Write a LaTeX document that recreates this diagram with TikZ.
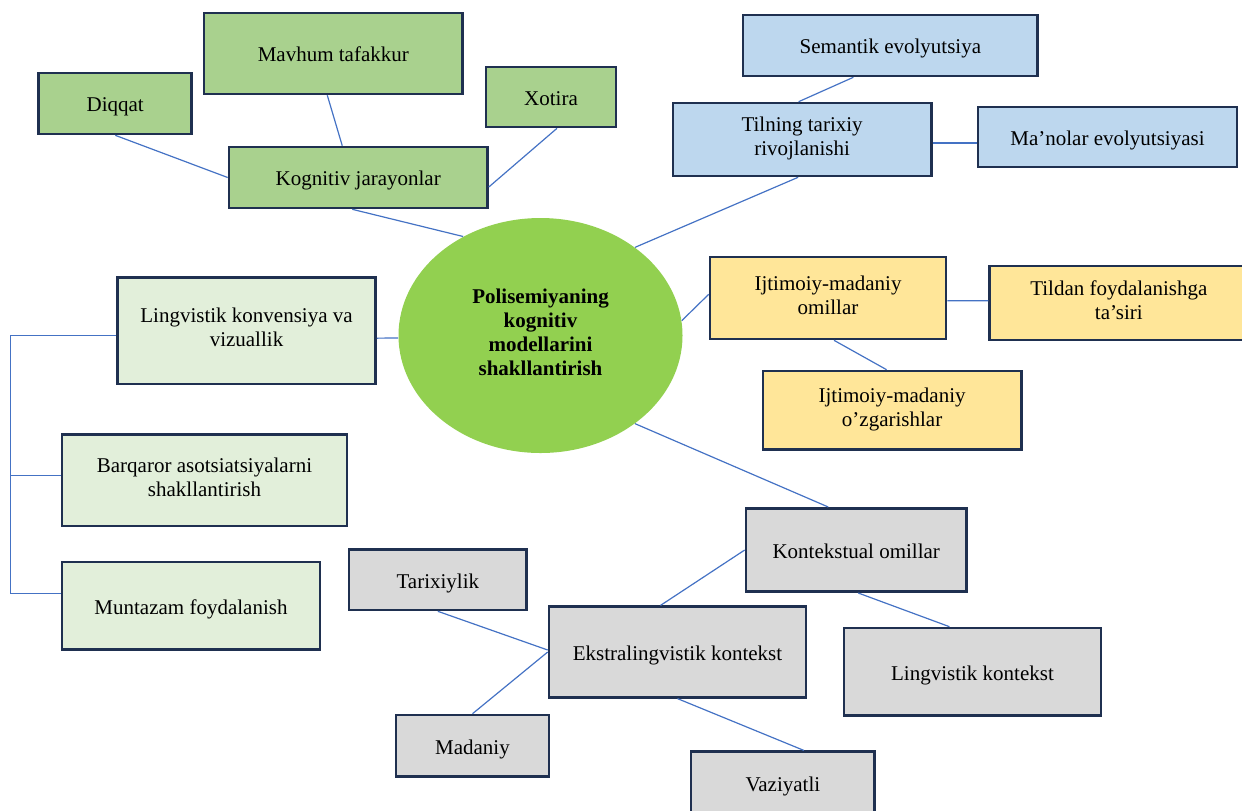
\documentclass[tikz,border=0pt]{standalone}
\usepackage{fontspec}
\setmainfont{Liberation Serif}
\usetikzlibrary{shapes.geometric,calc}
\definecolor{leaf}{HTML}{A9D18E}
\definecolor{sky}{HTML}{BDD7EE}
\definecolor{sand}{HTML}{FFE699}
\definecolor{mint}{HTML}{E2EFDA}
\definecolor{ash}{HTML}{D9D9D9}
\definecolor{hub}{HTML}{92D050}
\definecolor{edge}{HTML}{1F3050}
\definecolor{wire}{HTML}{4472C4}
\begin{document}
\begin{tikzpicture}[x=0.5pt,y=-0.5pt,
  box/.style={draw=edge, line width=1.3pt, inner sep=0pt, align=center,
    font=\fontsize{10.5}{12}\selectfont,
    execute at begin node={\rule{0pt}{11.4pt}},
    execute at end node={\rule[-3pt]{0pt}{3pt}}},
  link/.style={draw=wire, line width=0.6pt}]
\useasboundingbox (0,0) rectangle (1242,810);
\clip (0,0) rectangle (1242,810);

% central idea
\node[ellipse, fill=hub, inner sep=0pt, minimum width=142pt, minimum height=117.5pt,
  align=center, font=\fontsize{10.5}{12}\selectfont\bfseries,
  execute at begin node={\rule{0pt}{13pt}},
  execute at end node={\rule[-3pt]{0pt}{3pt}}] (ell) at (540.5,335.5)
  {Polisemiyaning\\kognitiv\\modellarini\\shakllantirish};

% cognitive processes
\node[box, fill=leaf, minimum width=76.5pt, minimum height=30.5pt] (diq) at (115.25,103.5) {Diqqat};
\node[box, fill=leaf, minimum width=129.3pt, minimum height=40.5pt] (mav) at (333.3,53.5) {Mavhum tafakkur};
\node[box, fill=leaf, minimum width=65pt, minimum height=30pt] (xot) at (551,97) {Xotira};
\node[box, fill=leaf, minimum width=129.25pt, minimum height=30.5pt] (kog) at (358.25,177.5) {Kognitiv jarayonlar};

% historical development
\node[box, fill=sky, minimum width=147.35pt, minimum height=30.5pt] (sem) at (890.35,45.5) {Semantik evolyutsiya};
\node[box, fill=sky, minimum width=129.3pt, minimum height=36.5pt] (til) at (802.1,139.5) {Tilning tarixiy\\rivojlanishi};
\node[box, fill=sky, minimum width=129.5pt, minimum height=30pt] (man) at (1107.5,137) {Ma’nolar evolyutsiyasi};

% socio-cultural factors
\node[box, fill=sand, minimum width=118pt, minimum height=41pt] (ijt) at (828,298) {Ijtimoiy-madaniy\\omillar};
\node[box, fill=sand, minimum width=129.15pt, minimum height=37pt] (tild) at (1118.85,303) {Tildan foydalanishga\\ta’siri};
\node[box, fill=sand, minimum width=129.3pt, minimum height=39.15pt] (ozg) at (892.1,410.15) {Ijtimoiy-madaniy\\o’zgarishlar};

% linguistic convention
\node[box, fill=mint, minimum width=129.1pt, minimum height=53.35pt] (lk) at (246.5,330.65) {Lingvistik konvensiya va\\vizuallik};
\node[box, fill=mint, minimum width=142.5pt, minimum height=45.85pt] (bar) at (204.5,480.15) {Barqaror asotsiatsiyalarni\\shakllantirish};
\node[box, fill=mint, minimum width=129pt, minimum height=43.65pt] (mun) at (191,605.65) {Muntazam foydalanish};

% contextual factors
\node[box, fill=ash, minimum width=88.85pt, minimum height=30.35pt] (tar) at (437.85,579.65) {Tarixiylik};
\node[box, fill=ash, minimum width=110.25pt, minimum height=41.7pt] (kont) at (856.25,550) {Kontekstual omillar};
\node[box, fill=ash, minimum width=128.5pt, minimum height=45.3pt] (ekst) at (677.5,652) {Ekstralingvistik kontekst};
\node[box, fill=ash, minimum width=128.5pt, minimum height=43.85pt] (lingk) at (972.5,671.85) {Lingvistik kontekst};
\node[box, fill=ash, minimum width=76.5pt, minimum height=30.85pt] (mad) at (472.5,745.85) {Madaniy};
\node[box, fill=ash, minimum width=91.85pt, minimum height=31.65pt] (vaz) at (782.85,783.35) {Vaziyatli};

% connectors
\draw[link] (diq.south) -- (kog.west);
\draw[link] ($(mav.south)+(-6,0)$) -- ($(kog.north)+(-16,0)$);
\draw[link] ($(xot.south)+(6,0)$) -- ($(kog.east)+(0,9.5)$);
\draw[link] ($(kog.south)+(-6,0)$) -- (ell.128.5);

\draw[link] ($(sem.south)+(-37,0)$) -- ($(til.north)+(-3.5,0)$);
\draw[link] ($(til.east)+(0,3.5)$) -- ($(man.west)+(0,6)$);
\draw[link] ($(til.south)+(-4,0)$) -- (ell.43);

\draw[link] (ell.6.3) -- ($(ijt.west)+(0,-3.7)$);
\draw[link] ($(ijt.east)+(0,2.7)$) -- ($(tild.west)+(0,-2.3)$);
\draw[link] ($(ijt.south)+(6,0)$) -- ($(ozg.north)+(-5.5,0)$);

\draw[link] ($(lk.east)+(0,7.5)$) -- (ell.181);
\path ($(lk.west)+(0,4.5)$) coordinate (l1)
      ($(bar.west)+(0,-5)$) coordinate (b1)
      ($(mun.west)+(0,-12.5)$) coordinate (m1);
\coordinate (spine) at (10.7,0);
\draw[link] (l1) -- (spine |- l1) -- (spine |- m1) -- (m1);
\draw[link] (spine |- b1) -- (b1);

\draw[link] (ell.-43.7) -- ($(kont.north)+(-28,0)$);
\draw[link] ($(kont.south)+(2,0)$) -- ($(lingk.north)+(-23,0)$);
\draw[link] ($(ekst.north)+(-17,0)$) -- (kont.west);
\draw[link] (tar.south) -- ($(ekst.west)+(0,-2)$);
\draw[link] (mad.north) -- (ekst.west);
\draw[link] (ekst.south) -- ($(vaz.north)+(21,0)$);
\end{tikzpicture}
\end{document}
